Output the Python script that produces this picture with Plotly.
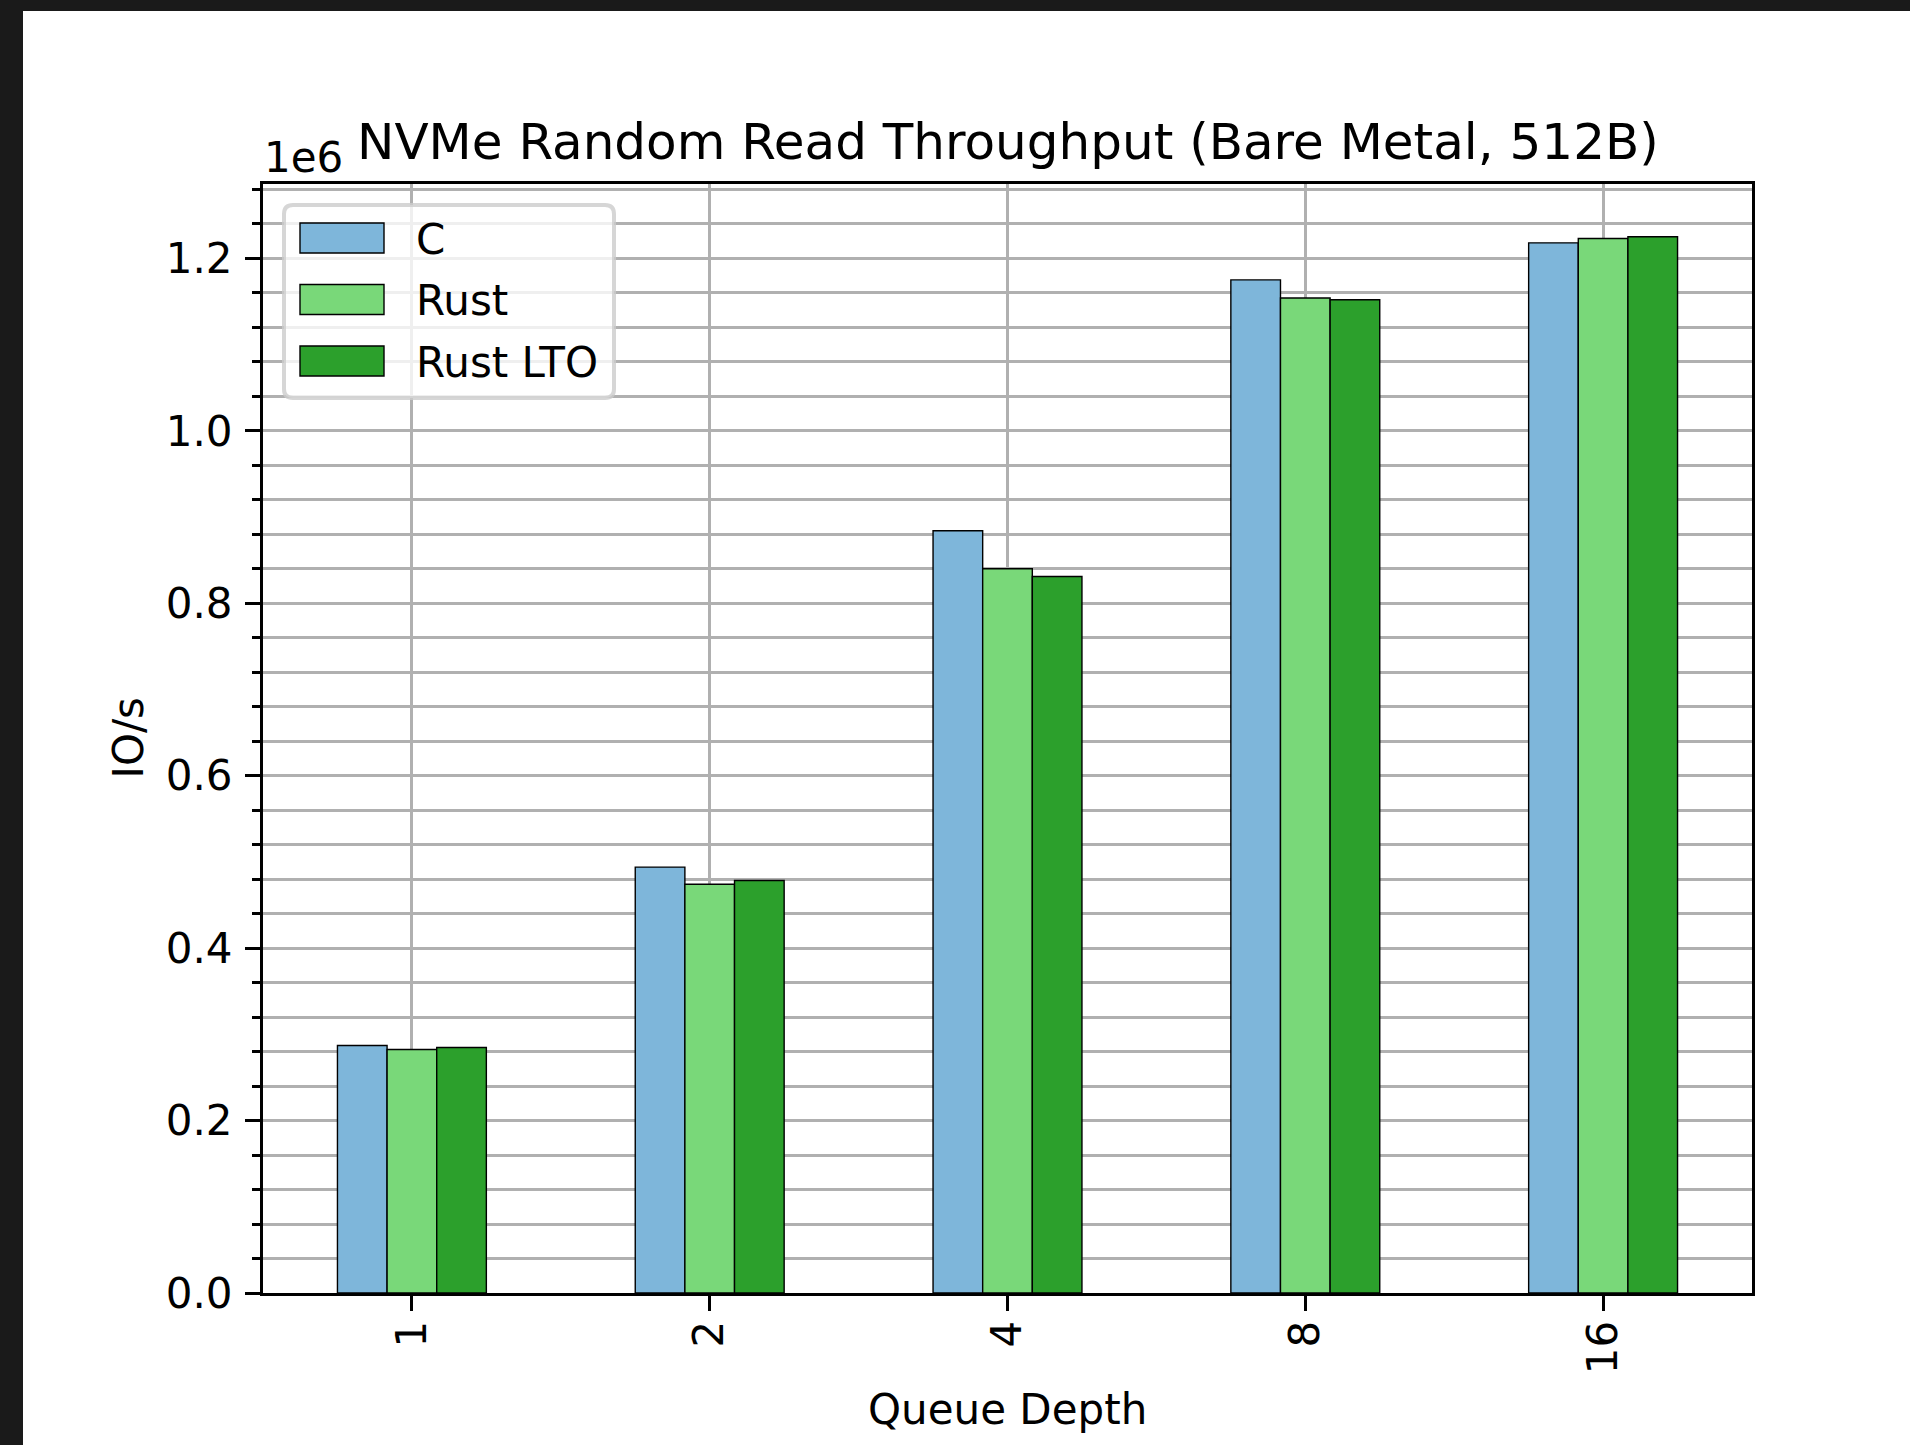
import plotly.graph_objects as go

# ---------------- data ----------------
queue_depths = ["1", "2", "4", "8", "16"]
c_iops = [287000, 494000, 884000, 1175000, 1218000]
rust_iops = [282500, 474000, 840000, 1154000, 1223000]
rust_lto_iops = [284700, 478500, 831000, 1152000, 1225000]
series_names = ["C", "Rust", "Rust LTO"]
series_colors = ["#7eb6da", "#79d879", "#2ca02c"]
y_tick_vals = [0, 200000, 400000, 600000, 800000, 1000000, 1200000]
y_tick_text = ["0.0", "0.2", "0.4", "0.6", "0.8", "1.0", "1.2"]
title_text = "NVMe Random Read Throughput (Bare Metal, 512B)"
x_label = "Queue Depth"
y_label = "IO/s"
offset_text = "1e6"

# ---------------- layout constants (pixels) ----------------
W, H = 1910, 1445
L, R, T, B = 263, 1752, 184, 1293
FONT = "DejaVu Sans"
GRID = "#b0b0b0"


def px_x(x):
    return (x - L) / (R - L)


def px_y(y):
    return (B - y) / (B - T)


series_values = [c_iops, rust_iops, rust_lto_iops]
fig = go.Figure()
for name, vals, col in zip(series_names, series_values, series_colors):
    fig.add_trace(go.Bar(
        x=queue_depths, y=vals, name=name,
        marker=dict(color=col, line=dict(color="black", width=1.4)),
        showlegend=False,
    ))

ymax = max(max(v) for v in series_values) * 1.05

shapes = []
# white page panel over dark background
shapes.append(dict(type="rect", xref="paper", yref="paper",
                   x0=px_x(23), x1=px_x(W + 5), y0=px_y(11), y1=px_y(H + 5),
                   fillcolor="white", line=dict(width=0), layer="below"))

# custom legend frame (rounded)
fx0, fx1, fy0, fy1, rad = 284, 614, 205, 398, 9
def P(x, y):
    return f"{px_x(x)},{px_y(y)}"
path = (f"M {P(fx0+rad, fy0)} L {P(fx1-rad, fy0)} Q {P(fx1, fy0)} {P(fx1, fy0+rad)} "
        f"L {P(fx1, fy1-rad)} Q {P(fx1, fy1)} {P(fx1-rad, fy1)} "
        f"L {P(fx0+rad, fy1)} Q {P(fx0, fy1)} {P(fx0, fy1-rad)} "
        f"L {P(fx0, fy0+rad)} Q {P(fx0, fy0)} {P(fx0+rad, fy0)} Z")
shapes.append(dict(type="path", xref="paper", yref="paper", path=path,
                   fillcolor="rgba(255,255,255,0.8)",
                   line=dict(color="rgba(204,204,204,0.8)", width=4), layer="above"))

annotations = []
row_centers = [238, 299.5, 361]
for name, col, yc in zip(series_names, series_colors, row_centers):
    shapes.append(dict(type="rect", xref="paper", yref="paper",
                       x0=px_x(300), x1=px_x(384), y0=px_y(yc + 15), y1=px_y(yc - 15),
                       fillcolor=col, line=dict(color="black", width=1.4), layer="above"))
    annotations.append(dict(text=name, xref="paper", yref="paper",
                            x=px_x(414), y=px_y(yc + 1), xanchor="left", yanchor="middle",
                            showarrow=False, font=dict(family=FONT, size=42, color="black")))

annotations.append(dict(text=title_text, xref="paper", yref="paper",
                        x=px_x((L + R) / 2), y=px_y(142), xanchor="center", yanchor="middle",
                        showarrow=False, font=dict(family=FONT, size=50, color="black")))
annotations.append(dict(text=offset_text, xref="paper", yref="paper",
                        x=px_x(262), y=px_y(157), xanchor="left", yanchor="middle",
                        showarrow=False, font=dict(family=FONT, size=42, color="black")))
annotations.append(dict(text=y_label, xref="paper", yref="paper",
                        x=px_x(128), y=px_y((T + B) / 2), xanchor="center", yanchor="middle",
                        textangle=-90, showarrow=False,
                        font=dict(family=FONT, size=42, color="black")))
annotations.append(dict(text=x_label, xref="paper", yref="paper",
                        x=px_x((L + R) / 2), y=px_y(1409), xanchor="center", yanchor="middle",
                        showarrow=False, font=dict(family=FONT, size=42, color="black")))

fig.update_layout(
    width=W, height=H,
    margin=dict(l=L, r=W - R, t=T, b=H - B, pad=0),
    paper_bgcolor="#1a1a1a", plot_bgcolor="white",
    barmode="group", bargap=0.5, bargroupgap=0,
    font=dict(family=FONT, size=42, color="black"),
    shapes=shapes, annotations=annotations,
    showlegend=False,
)
fig.update_xaxes(
    type="category", range=[-0.5, len(queue_depths) - 0.5],
    showline=True, linecolor="black", linewidth=3, mirror=True,
    ticks="outside", ticklen=15, tickwidth=3, tickcolor="black",
    tickangle=-90, tickfont=dict(family=FONT, size=42, color="black"),
    ticklabelstandoff=-7,
    showgrid=True, gridcolor=GRID, gridwidth=3, zeroline=False,
)
fig.update_yaxes(
    range=[0, ymax],
    tickmode="array", tickvals=y_tick_vals, ticktext=y_tick_text,
    showline=True, linecolor="black", linewidth=3, mirror=True,
    ticks="outside", ticklen=15, tickwidth=3, tickcolor="black",
    tickfont=dict(family=FONT, size=42, color="black"),
    ticklabelstandoff=4,
    showgrid=True, gridcolor=GRID, gridwidth=3, zeroline=False,
    minor=dict(tickmode="linear", tick0=0, dtick=40000, ticks="outside", ticklen=8,
               tickwidth=2.5, tickcolor="black", showgrid=True, gridcolor=GRID, gridwidth=3),
)

fig.write_html("out.html")
